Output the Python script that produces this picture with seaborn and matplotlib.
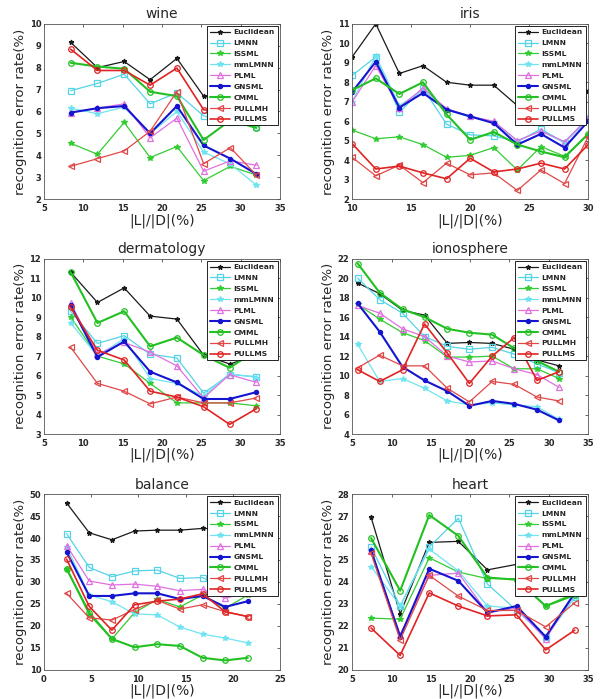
import matplotlib
matplotlib.use("Agg")
import matplotlib.pyplot as plt
import seaborn as sns

methods = ["Euclidean", "LMNN", "ISSML", "mmLMNN", "PLML", "GNSML", "CMML", "PULLMH", "PULLMS"]

# ---- data ----
wine_x = [8.4, 11.8, 15.2, 18.5, 21.9, 25.3, 28.7, 32.0]
wine = {
    "Euclidean": [9.15, 8.0, 8.28, 7.45, 8.42, 6.7, 6.5, 6.3],
    "LMNN":      [6.95, 7.28, 7.7, 6.35, 6.85, 5.8, 5.5, 5.3],
    "ISSML":     [4.55, 4.05, 5.5, 3.9, 4.4, 2.85, 3.5, 3.1],
    "mmLMNN":    [6.15, 5.9, 6.2, 5.0, 6.0, 4.15, 3.6, 2.65],
    "PLML":      [5.95, 6.15, 6.35, 4.8, 5.7, 3.28, 3.75, 3.55],
    "GNSML":     [5.95, 6.15, 6.25, 5.0, 6.25, 4.45, 3.85, 3.15],
    "CMML":      [8.22, 8.05, 7.95, 6.9, 6.7, 4.7, 5.6, 5.25],
    "PULLMH":    [3.5, 3.85, 4.2, 5.1, 6.9, 3.62, 4.35, 3.1],
    "PULLMS":    [8.84, 7.87, 7.87, 7.2, 7.98, 6.08, 5.9, 5.6],
}

iris_x = [10, 12, 14, 16, 18, 20, 22, 24, 26, 28, 30]
iris = {
    "Euclidean": [9.3, 11.0, 8.45, 8.85, 8.0, 7.85, 7.85, 6.8, 6.9, 6.5, 7.55],
    "LMNN":      [8.35, 9.3, 6.45, 7.7, 5.85, 5.3, 5.25, 4.95, 5.6, 4.9, 6.1],
    "ISSML":     [5.55, 5.1, 5.2, 4.8, 4.15, 4.25, 4.65, 3.5, 4.7, 4.2, 5.3],
    "mmLMNN":    [7.0, 9.35, 6.8, 7.6, 6.6, 6.2, 5.95, 5.0, 5.5, 4.9, 6.2],
    "PLML":      [7.0, 8.85, 6.7, 7.7, 6.65, 6.25, 6.0, 5.0, 5.5, 4.95, 6.15],
    "GNSML":     [7.5, 9.05, 6.7, 7.45, 6.6, 6.25, 5.9, 4.8, 5.35, 4.65, 6.0],
    "CMML":      [7.6, 8.2, 7.4, 8.0, 6.35, 5.05, 5.45, 4.8, 4.45, 4.15, 5.35],
    "PULLMH":    [4.15, 3.2, 3.75, 2.85, 3.85, 3.25, 3.35, 2.45, 3.5, 2.8, 5.2],
    "PULLMS":    [4.85, 3.55, 3.7, 3.35, 3.05, 4.1, 3.4, 3.55, 3.85, 3.55, 4.8],
}

derm_x = [8.4, 11.8, 15.2, 18.5, 21.9, 25.3, 28.6, 32.0]
derm = {
    "Euclidean": [11.3, 9.75, 10.5, 9.05, 8.9, 7.05, 6.6, 7.0],
    "LMNN":      [9.3, 7.65, 8.05, 7.1, 6.9, 5.1, 6.05, 5.95],
    "ISSML":     [9.0, 7.0, 6.6, 5.6, 4.6, 4.6, 4.6, 4.45],
    "mmLMNN":    [8.7, 7.0, 7.9, 5.85, 5.6, 4.95, 6.1, 5.9],
    "PLML":      [9.7, 7.1, 7.7, 7.2, 6.5, 4.85, 6.05, 5.65],
    "GNSML":     [9.6, 6.95, 7.75, 6.2, 5.65, 4.8, 4.8, 5.15],
    "CMML":      [11.3, 8.7, 9.3, 7.5, 7.95, 7.05, 6.4, 7.3],
    "PULLMH":    [7.45, 5.6, 5.2, 4.55, 4.9, 4.6, 4.6, 4.85],
    "PULLMS":    [9.5, 7.3, 6.8, 5.2, 4.9, 4.4, 3.5, 4.3],
}

iono_x = [5.7, 8.5, 11.4, 14.2, 17.1, 19.9, 22.8, 25.6, 28.5, 31.3]
iono = {
    "Euclidean": [19.5, 18.4, 16.7, 16.2, 13.3, 13.4, 13.3, 12.7, 11.6, 11.0],
    "LMNN":      [20.0, 17.8, 16.4, 14.0, 13.0, 12.7, 12.9, 12.2, 11.2, 10.3],
    "ISSML":     [17.3, 15.8, 14.4, 13.6, 11.9, 11.9, 12.0, 10.7, 10.7, 9.7],
    "mmLMNN":    [13.2, 9.4, 9.7, 8.7, 7.4, 7.0, 7.2, 7.0, 6.8, 5.5],
    "PLML":      [17.2, 16.4, 14.8, 14.0, 12.0, 11.4, 11.5, 10.7, 10.1, 8.8],
    "GNSML":     [17.4, 14.5, 10.9, 9.5, 8.4, 6.9, 7.4, 7.1, 6.5, 5.4],
    "CMML":      [21.5, 18.5, 16.8, 16.0, 14.8, 14.4, 14.2, 12.8, 11.5, 10.4],
    "PULLMH":    [10.8, 12.1, 11.0, 11.0, 8.7, 7.3, 9.4, 9.1, 7.8, 7.4],
    "PULLMS":    [10.6, 9.4, 10.6, 15.3, 12.3, 9.2, 12.0, 13.9, 9.5, 10.4],
}

bal_x = [2.4, 4.8, 7.2, 9.6, 12.0, 14.4, 16.8, 19.2, 21.6]
bal = {
    "Euclidean": [48.0, 41.2, 39.6, 41.6, 41.8, 41.8, 42.2, 42.0, 42.5],
    "LMNN":      [41.0, 33.3, 31.2, 32.5, 32.7, 30.8, 31.0, 28.0, 29.5],
    "ISSML":     [33.0, 22.5, 17.0, 23.0, 26.0, 24.3, 27.0, 24.0, 27.0],
    "mmLMNN":    [38.0, 27.0, 25.5, 22.7, 22.5, 19.7, 18.1, 17.2, 16.1],
    "PLML":      [38.3, 30.2, 29.3, 29.5, 29.0, 28.0, 28.3, 26.3, 27.5],
    "GNSML":     [36.8, 26.8, 26.8, 27.4, 27.4, 26.1, 26.8, 24.3, 25.6],
    "CMML":      [33.0, 23.0, 17.0, 15.1, 15.8, 15.4, 12.7, 12.1, 12.7],
    "PULLMH":    [27.4, 21.8, 21.3, 23.7, 25.8, 23.8, 24.8, 23.2, 22.1],
    "PULLMS":    [35.2, 24.4, 19.0, 24.8, 25.6, 26.1, 27.3, 23.2, 22.1],
}

heart_x = [7.4, 11.1, 14.8, 18.5, 22.2, 25.9, 29.6, 33.3]
heart = {
    "Euclidean": [26.95, 22.55, 25.8, 25.85, 24.55, 24.8, 24.3, 23.6],
    "LMNN":      [25.6, 22.9, 25.6, 26.9, 23.9, 22.7, 21.5, 23.3],
    "ISSML":     [22.35, 22.3, 25.1, 24.45, 24.15, 24.15, 22.9, 23.5],
    "mmLMNN":    [24.7, 22.9, 25.5, 24.5, 22.9, 22.8, 21.5, 23.3],
    "PLML":      [25.4, 21.6, 24.3, 24.4, 22.6, 22.8, 21.4, 23.5],
    "GNSML":     [25.45, 21.5, 24.6, 24.05, 22.6, 22.9, 21.5, 23.5],
    "CMML":      [26.0, 23.6, 27.05, 26.1, 24.2, 24.1, 22.9, 23.4],
    "PULLMH":    [25.3, 21.35, 24.3, 23.35, 22.7, 22.7, 21.95, 23.05],
    "PULLMS":    [21.9, 20.65, 23.5, 22.9, 22.45, 22.5, 20.9, 21.8],
}

# ---- styles (matlab-ish) ----
styles = {
    "Euclidean": dict(color="#1a1a1a", marker="*", ms=3.5, lw=0.9, mfc=None),
    "LMNN":      dict(color="#55d4e6", marker="s", ms=4, lw=0.9, mfc="none"),
    "ISSML":     dict(color="#33cc33", marker="*", ms=4, lw=0.9, mfc=None),
    "mmLMNN":    dict(color="#6fe4f0", marker="*", ms=4, lw=0.9, mfc=None),
    "PLML":      dict(color="#e070e0", marker="^", ms=4, lw=0.9, mfc="none"),
    "GNSML":     dict(color="#1515d0", marker="o", ms=3, lw=1.5, mfc=None),
    "CMML":      dict(color="#22c022", marker="o", ms=4, lw=1.5, mfc="none"),
    "PULLMH":    dict(color="#e04848", marker="<", ms=4, lw=0.9, mfc="none"),
    "PULLMS":    dict(color="#e02424", marker="o", ms=4, lw=1.2, mfc="none"),
}

panels = [
    ("wine", wine_x, wine, (5, 35), range(5, 36, 5), (2, 10), range(2, 11, 1)),
    ("iris", iris_x, iris, (10, 30), range(10, 31, 5), (2, 11), range(2, 12, 1)),
    ("dermatology", derm_x, derm, (5, 35), range(5, 36, 5), (3, 12), range(3, 13, 1)),
    ("ionosphere", iono_x, iono, (5, 35), range(5, 36, 5), (4, 22), range(4, 23, 2)),
    ("balance", bal_x, bal, (0, 25), range(0, 26, 5), (10, 50), range(10, 51, 5)),
    ("heart", heart_x, heart, (5, 35), range(5, 36, 5), (20, 28), range(20, 29, 1)),
]

sns.set_style("white")
plt.rcParams["font.family"] = ["DejaVu Sans"]

fig = plt.figure(figsize=(6.02, 6.99), dpi=100)
lefts = [0.073, 0.585]
bottoms = [0.715, 0.379, 0.042]
w, h = 0.392, 0.251

for i, (title, xs, data, xlim, xt, ylim, yt) in enumerate(panels):
    ax = fig.add_axes([lefts[i % 2], bottoms[i // 2], w, h])
    for m in methods:
        st = styles[m]
        kw = dict(color=st["color"], marker=st["marker"], markersize=st["ms"],
                  linewidth=st["lw"], markeredgecolor=st["color"], markeredgewidth=0.9)
        if st["mfc"] is not None:
            kw["markerfacecolor"] = st["mfc"]
        sns.lineplot(x=xs, y=data[m], ax=ax, label=m, sort=False, **kw)
    ax.set_xlim(*xlim)
    ax.set_ylim(*ylim)
    ax.set_xticks(list(xt))
    ax.set_yticks(list(yt))
    ax.tick_params(axis="both", labelsize=6, direction="in", length=2, width=0.5,
                   top=True, right=True)
    ax.tick_params(axis="x", pad=3.5)
    ax.tick_params(axis="y", pad=2)
    for lab in ax.get_xticklabels() + ax.get_yticklabels():
        lab.set_fontweight("bold")
    for sp in ax.spines.values():
        sp.set_visible(True)
        sp.set_color("#555555")
        sp.set_linewidth(0.6)
    ax.set_title(title, fontsize=10, pad=4)
    ax.set_xlabel("|L|/|D|(%)", fontsize=10, labelpad=0)
    ax.set_ylabel("recognition error rate(%)", fontsize=9.5, labelpad=2)
    leg = ax.legend(loc="upper right", prop={"size": 5.4, "weight": "bold"},
                    frameon=True, fancybox=False, framealpha=1, edgecolor="black",
                    handlelength=2.6, labelspacing=0.62, borderpad=0.4,
                    borderaxespad=0.3, handletextpad=0.5)
    leg.get_frame().set_linewidth(0.6)
    leg.set_zorder(10)

fig.savefig("out.png", dpi=100)
